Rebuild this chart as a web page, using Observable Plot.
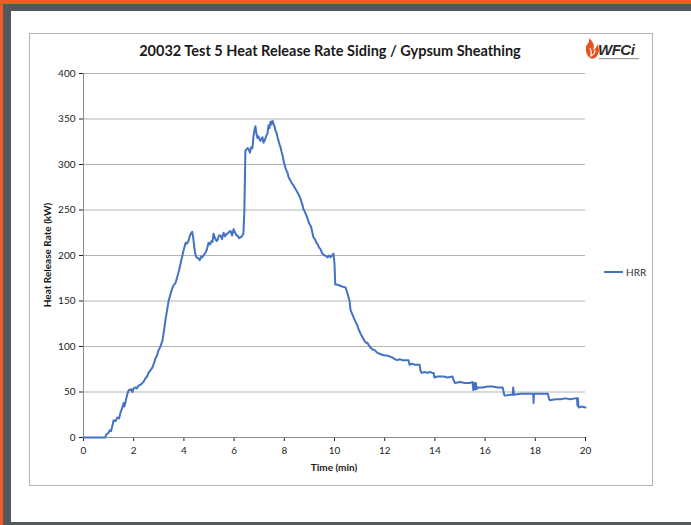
<!DOCTYPE html>
<html>
<head>
<meta charset="utf-8">
<script src="https://cdn.jsdelivr.net/npm/d3@7"></script>
<script src="https://cdn.jsdelivr.net/npm/@observablehq/plot@0.6"></script>
<style>
  html, body { margin: 0; padding: 0; }
  body { width: 691px; height: 525px; position: relative; overflow: hidden; background: #fff; font-family: Lato, "Open Sans", sans-serif; }
  .band { position: absolute; }
  #box { position: absolute; left: 29px; top: 33px; width: 622px; height: 451px; border: 1px solid #b4b4b4; box-sizing: content-box; }
  #title { position: absolute; left: 29px; width: 602px; top: 42px; text-align: center; font-weight: bold; font-size: 14.5px; color: #1a1a1a; font-family: Lato, sans-serif; }
  #logo { position: absolute; left: 584px; top: 38px; }
  #legend { position: absolute; left: 604px; top: 266px; font-size: 10px; color: #333; display: flex; align-items: center; font-family: Lato, sans-serif; }
  #legend .sw { width: 19px; height: 2px; background: #4472C4; margin-right: 3px; }
  #chart { position: absolute; left: 30px; top: 60px; }
  .axlabel { position: absolute; font-weight: bold; font-size: 10px; color: #1a1a1a; font-family: Lato, sans-serif; white-space: nowrap; }
  #ylab { left: 47px; top: 255px; transform: translate(-50%, -50%) rotate(-90deg); }
  #xlab { left: 334px; top: 467px; transform: translate(-50%, -50%); }
</style>
</head>
<body>
<div class="band" style="left:0;top:0;width:691px;height:4px;background:#f15a22"></div>
<div class="band" style="left:0;top:0;width:3px;height:525px;background:#f15a22"></div>
<div class="band" style="left:3px;top:4px;width:688px;height:7px;background:#53585c"></div>
<div class="band" style="left:3px;top:4px;width:8px;height:521px;background:#53585c"></div>
<div class="band" style="left:3px;top:522px;width:688px;height:3px;background:#53585c"></div>
<div id="box"></div>
<div id="title">20032 Test 5 Heat Release Rate Siding / Gypsum Sheathing</div>
<div id="logo">
<svg width="60" height="26" viewBox="0 0 60 26">
  <path d="M2 8 Q6 4 5 0 Q12 6 9 12 Q13 10 13 6 Q17 12 13 18 Q10 22 6 20 Q1 16 2 8 Z" fill="#e8501c"/>
  <path d="M6 10 Q8 14 7 18 Q11 16 11 12" fill="none" stroke="#fff" stroke-width="1.2"/>
  <text x="14" y="17" font-family="Liberation Sans, sans-serif" font-weight="bold" font-style="italic" font-size="15" fill="#2b2b2b" letter-spacing="-0.5">WFCi</text>
  <rect x="15" y="20" width="40" height="1.2" fill="#999"/>
</svg>
</div>
<div id="legend"><div class="sw"></div><span>HRR</span></div>
<div id="chart"></div>
<div id="ylab" class="axlabel">Heat Release Rate (kW)</div>
<div id="xlab" class="axlabel">Time (min)</div>
<script>
const timeMin = [
  0, 0.5, 0.87, 0.9, 0.99, 1.05, 1.1, 1.15, 1.2, 1.28,
  1.35, 1.42, 1.47, 1.55, 1.6, 1.63, 1.68, 1.75, 1.8, 1.9,
  1.95, 2.0, 2.07, 2.12, 2.19, 2.27, 2.35, 2.41, 2.47, 2.53,
  2.59, 2.67, 2.75, 2.81, 2.87, 2.93, 2.99, 3.07, 3.15, 3.21,
  3.27, 3.33, 3.39, 3.47, 3.55, 3.61, 3.67, 3.74, 3.8, 3.86,
  3.9, 3.98, 4.07, 4.12, 4.18, 4.24, 4.3, 4.33, 4.37, 4.41,
  4.45, 4.5, 4.57, 4.63, 4.69, 4.73, 4.8, 4.86, 4.92, 4.98,
  5.04, 5.1, 5.14, 5.18, 5.24, 5.3, 5.34, 5.4, 5.46, 5.52,
  5.58, 5.64, 5.7, 5.74, 5.8, 5.86, 5.92, 5.98, 6.04, 6.1,
  6.14, 6.2, 6.25, 6.31, 6.37, 6.41, 6.45, 6.5, 6.55, 6.59,
  6.63, 6.68, 6.73, 6.77, 6.81, 6.85, 6.89, 6.93, 6.97, 7.01,
  7.05, 7.09, 7.13, 7.17, 7.21, 7.25, 7.29, 7.33, 7.37, 7.41,
  7.45, 7.49, 7.53, 7.57, 7.61, 7.65, 7.69, 7.73, 7.77, 7.81,
  7.85, 7.89, 7.93, 7.97, 8.01, 8.05, 8.09, 8.13, 8.17, 8.21,
  8.25, 8.31, 8.37, 8.43, 8.49, 8.53, 8.59, 8.65, 8.69, 8.73,
  8.76, 8.82, 8.88, 8.92, 8.98, 9.04, 9.08, 9.12, 9.16, 9.22,
  9.28, 9.32, 9.38, 9.44, 9.5, 9.56, 9.62, 9.68, 9.72, 9.78,
  9.84, 9.9, 9.96, 10.0, 10.03, 10.1, 10.2, 10.3, 10.44, 10.52,
  10.6, 10.64, 10.7, 10.76, 10.84, 10.9, 10.96, 11.04, 11.12, 11.2,
  11.26, 11.31, 11.4, 11.5, 11.6, 11.71, 11.8, 11.9, 12.0, 12.11,
  12.2, 12.3, 12.4, 12.51, 12.6, 12.7, 12.8, 12.95, 12.99, 13.1,
  13.2, 13.3, 13.39, 13.43, 13.47, 13.6, 13.7, 13.8, 13.9, 13.95,
  13.98, 14.1, 14.2, 14.35, 14.5, 14.7, 14.76, 14.8, 15.0, 15.2,
  15.4, 15.5, 15.53, 15.56, 15.6, 15.63, 15.66, 15.7, 15.9, 16.1,
  16.3, 16.5, 16.7, 16.76, 16.8, 17.0, 17.1, 17.12, 17.15, 17.4,
  17.6, 17.8, 17.92, 17.93, 17.95, 18.2, 18.5, 18.55, 18.58, 18.8,
  19.0, 19.2, 19.4, 19.6, 19.66, 19.68, 19.7, 19.72, 19.74, 19.85,
  20.0
];
const hrrKW = [
  0, 0, 0, 3, 5, 8, 7, 13, 19, 18,
  22, 21, 27, 33, 38, 34, 40, 48, 52, 53,
  50, 54, 55, 54, 57, 58, 60, 62, 65, 67,
  71, 74, 77, 82, 87, 90, 96, 100, 107, 118,
  130, 140, 150, 158, 165, 168, 170, 177, 183, 190,
  195, 205, 214, 213, 216, 222, 225, 226, 220, 210,
  202, 198, 197, 195, 199, 198, 201, 203, 207, 214,
  212, 216, 215, 224, 219, 216, 217, 222, 222, 218,
  225, 221, 224, 224, 226, 227, 222, 229, 225, 222,
  222, 219, 220, 221, 224, 250, 315, 317, 318, 316,
  313, 319, 318, 330, 338, 342, 334, 329, 331, 328,
  326, 328, 330, 324, 326, 329, 332, 334, 343, 340,
  347, 344, 348, 345, 342, 337, 335, 330, 326, 322,
  319, 314, 310, 304, 300, 296, 293, 291, 286, 284,
  282, 279, 277, 274, 271, 269, 266, 262, 258, 255,
  251, 248, 244, 241, 236, 233, 230, 225, 220, 218,
  214, 213, 209, 207, 203, 201, 200, 199, 198, 200,
  198, 200, 202, 191, 168, 168, 167, 166, 165, 158,
  150, 140, 136, 132, 127, 124, 119, 114, 110, 106,
  104, 104, 100, 97, 96, 93, 92, 91, 90, 90,
  89, 88, 86, 85, 86, 85, 85, 85, 80, 81,
  80, 80, 80, 73, 71, 72, 71, 72, 71, 71,
  66, 67, 67, 67, 66, 67, 62, 60, 61, 60,
  60, 61, 52, 60, 53, 60, 53, 55, 55, 56,
  56, 55, 55, 47, 46, 47, 47, 55, 47, 48,
  48, 48, 48, 38, 48, 48, 48, 42, 41, 42,
  42, 43, 42, 43, 43, 35, 43, 34, 33, 34,
  33
];
const yTicks = [0, 50, 100, 150, 200, 250, 300, 350, 400];
const xTicks = [0, 2, 4, 6, 8, 10, 12, 14, 16, 18, 20];
const rows = timeMin.map((t, i) => ({t, v: hrrKW[i]}));

const chart = Plot.plot({
  width: 600,
  height: 420,
  marginLeft: 53,
  marginTop: 13,
  marginBottom: 43,
  marginRight: 45,
  style: {fontFamily: "Lato, sans-serif", fontSize: "10px", color: "#222", background: "transparent"},
  x: {domain: [0, 20], ticks: xTicks, tickSize: 4, tickPadding: 5, label: null},
  y: {domain: [0, 400], ticks: yTicks, tickSize: 4, tickPadding: 4, label: null},
  marks: [
    Plot.ruleY(yTicks.filter(d => d > 0), {stroke: "#b3b3b3", strokeWidth: 1}),
    Plot.ruleX([0], {stroke: "#8c8c8c"}),
    Plot.ruleY([0], {stroke: "#8c8c8c"}),
    Plot.line(rows, {x: "t", y: "v", stroke: "#4472C4", strokeWidth: 2, strokeLinejoin: "round"})
  ]
});
document.getElementById("chart").appendChild(chart);
</script>
</body>
</html>
